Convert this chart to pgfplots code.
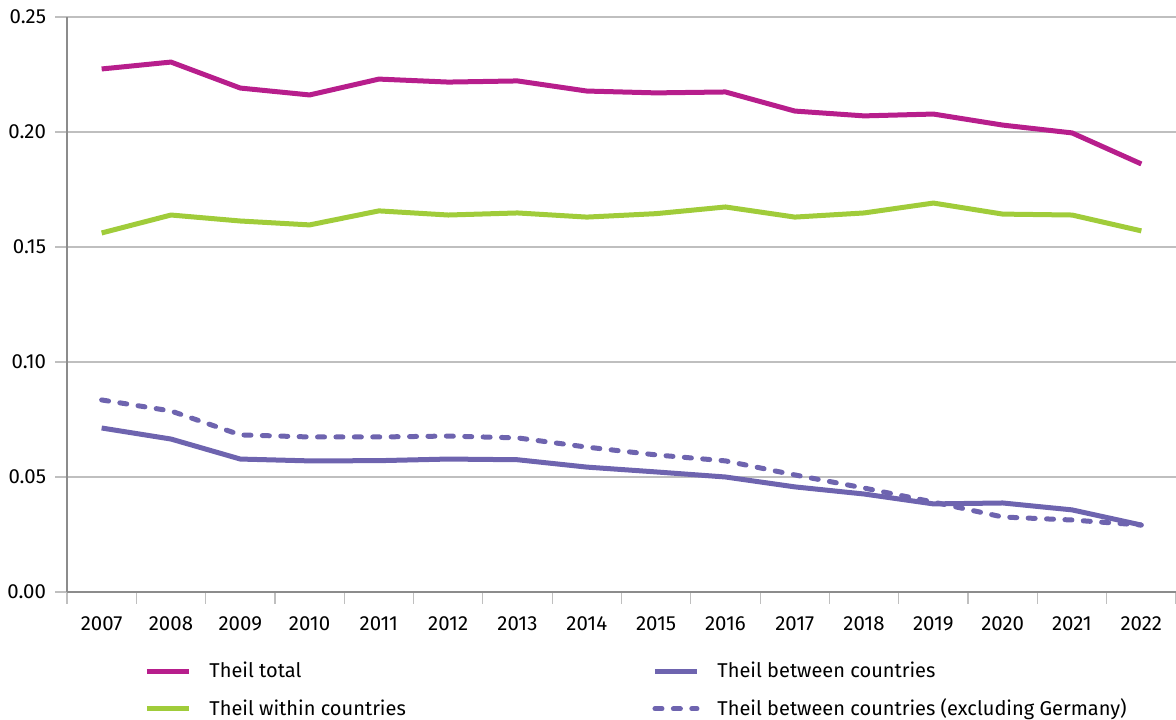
\documentclass[border=0pt]{standalone}
\usepackage{pgfplots}
\pgfplotsset{compat=1.18}
\usepackage{fontspec}
\setmainfont{Fira Sans}
\definecolor{ctotal}{RGB}{183,30,140}
\definecolor{cwithin}{RGB}{160,204,58}
\definecolor{cbetween}{RGB}{110,100,175}
\definecolor{gridc}{RGB}{191,191,191}
\definecolor{axisc}{RGB}{140,140,140}
\begin{document}
\begin{tikzpicture}
\begin{axis}[
  name=ax,
  scale only axis,
  width=554.5pt, height=287.5pt,
  xmin=2006.5, xmax=2022.5,
  ymin=0, ymax=0.25,
  axis lines*=left,
  axis line style={axisc, line width=0.8pt, -},
  xtick={2007,...,2022},
  minor xtick={2006.5,2007.5,...,2022.5},
  xticklabel={\pgfmathprintnumber[1000 sep={}]{\tick}},
  ytick={0,0.05,0.1,0.15,0.2,0.25},
  y tick label style={/pgf/number format/fixed, /pgf/number format/fixed zerofill, /pgf/number format/precision=2, xshift=-1pt},
  /pgf/number format/assume math mode=true,
  ymajorgrids,
  grid style={gridc, line width=0.6pt},
  major x tick style={draw=none},
  minor x tick style={gridc, line width=0.6pt},
  minor tick length=6pt,
  major y tick style={gridc, line width=0.6pt},
  major tick length=6pt,
  tick align=outside,
  ticklabel style={font=\fontsize{10.2}{12}\selectfont},
  x tick label style={yshift=-3pt},
  legend columns=2,
  legend style={draw=none, fill=none, at={(0.0641,-0.1145)}, anchor=north west,
    font=\fontsize{10}{12}\selectfont, row sep=9pt, column sep=0pt,
    nodes={inner sep=0pt}},
  legend cell align=left,
  legend image code/.code={\draw[#1] (0pt,0pt) -- (21pt,0pt);},
]
\addplot[ctotal, line width=2.5pt, line join=round] coordinates {
(2007,0.2274)(2008,0.2304)(2009,0.2191)(2010,0.2161)(2011,0.2230)(2012,0.2217)
(2013,0.2222)(2014,0.2178)(2015,0.2170)(2016,0.2174)(2017,0.2091)(2018,0.2070)
(2019,0.2078)(2020,0.2030)(2021,0.1996)(2022,0.1861)};
\addlegendentry{\hspace{9pt}\makebox[221.5pt][l]{Theil total}}
\addplot[cbetween, line width=2.5pt, line join=round] coordinates {
(2007,0.0713)(2008,0.0665)(2009,0.0578)(2010,0.0570)(2011,0.0571)(2012,0.0578)
(2013,0.0575)(2014,0.0543)(2015,0.0522)(2016,0.0500)(2017,0.0457)(2018,0.0426)
(2019,0.0383)(2020,0.0387)(2021,0.0357)(2022,0.0291)};
\addlegendentry{\hspace{9pt}Theil between countries}
\addplot[cwithin, line width=2.5pt, line join=round] coordinates {
(2007,0.1561)(2008,0.1639)(2009,0.1613)(2010,0.1596)(2011,0.1657)(2012,0.1639)
(2013,0.1648)(2014,0.1630)(2015,0.1645)(2016,0.1674)(2017,0.1630)(2018,0.1648)
(2019,0.1691)(2020,0.1643)(2021,0.1639)(2022,0.1570)};
\addlegendentry{\hspace{9pt}\makebox[221.5pt][l]{Theil within countries}}
\addplot[cbetween, line width=2.5pt, line cap=round, line join=round, dash pattern=on 3.5pt off 5.7pt] coordinates {
(2007,0.0835)(2008,0.0787)(2009,0.0683)(2010,0.0674)(2011,0.0674)(2012,0.0678)
(2013,0.0670)(2014,0.0630)(2015,0.0596)(2016,0.0570)(2017,0.0509)(2018,0.0452)
(2019,0.0391)(2020,0.0326)(2021,0.0313)(2022,0.0291)};
\addlegendentry{\hspace{9pt}Theil between countries (excluding Germany)}
\end{axis}
\pgfresetboundingbox
\path ([xshift=-33.5pt,yshift=-64pt]ax.south west) rectangle ([yshift=8.5pt]ax.north east);
\end{tikzpicture}
\end{document}
